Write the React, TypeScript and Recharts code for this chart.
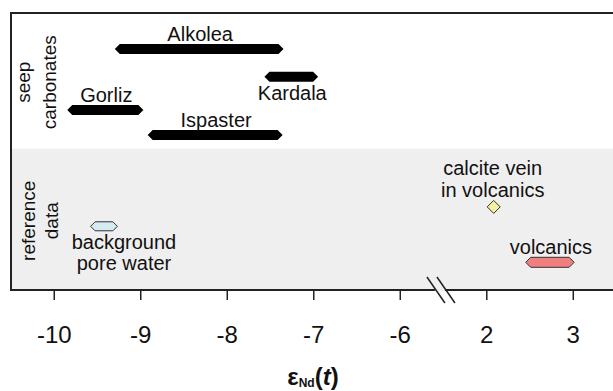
import React from "react";
import { ComposedChart, XAxis, YAxis, ReferenceArea, ReferenceDot, Scatter, Label } from "recharts";

// ---- data ----
const tickValues = [-10, -9, -8, -7, -6, 2, 3];

const seepNames = ["Alkolea", "Kardala", "Gorliz", "Ispaster"];
const seepMin = [-9.3, -7.57, -9.85, -8.92];
const seepMax = [-7.35, -6.95, -8.97, -7.36];
const seepRow = [8.7, 7.7, 6.5, 5.6];
const seepLabelSide = ["above", "below", "above", "above"];

const poreWaterRange = [-9.58, -9.27];
const poreWaterRow = 2.3;
const volcanicsRange = [2.45, 3.01];
const volcanicsRow = 1.0;
const calciteVeinValue = 2.08;
const calciteVeinRow = 3.0;

const groupLabels = [
  { lines: ["seep", "carbonates"], row: 7.5 },
  { lines: ["reference", "data"], row: 2.5 },
];
const referenceBandTop = 5.1;

// ---- broken-axis transform ----
const toPos = (v: number) => (v <= -6 ? v + 10 : v + 3);
const tickPositions = tickValues.map(toPos);
const breakPos = 4.47;

const calciteData = [{ pos: toPos(calciteVeinValue), row: calciteVeinRow }];

const FONT = "'Liberation Sans', Arial, sans-serif";
const X_DOMAIN: [number, number] = [-0.5, 6.54];
const Y_DOMAIN: [number, number] = [0, 10];

function hexPath(x: number, cy: number, w: number, h: number) {
  const half = h / 2;
  const tip = half;
  return `M${x},${cy} L${x + tip},${cy - half} L${x + w - tip},${cy - half} L${x + w},${cy} L${x + w - tip},${cy + half} L${x + tip},${cy + half} Z`;
}

const BarShape = (props: any) => {
  const { x, y, width, height, fill, stroke, barH, labelLines, labelDx, labelDy } = props;
  const cy = y + height / 2;
  const cx = x + width / 2;
  return (
    <g>
      <path d={hexPath(x, cy, width, barH)} fill={fill} stroke={stroke} strokeWidth={stroke === "none" ? 0 : 1} />
      {labelLines.map((t: string, i: number) => (
        <text key={i} x={cx + labelDx} y={cy + labelDy + i * 21} textAnchor="middle" fontSize={20} fontFamily={FONT} fill="#111">
          {t}
        </text>
      ))}
    </g>
  );
};

const DiamondShape = (p: any) => (
  <g>
    <polygon
      points={`${p.cx},${p.cy - 6.5} ${p.cx + 6.5},${p.cy} ${p.cx},${p.cy + 6.5} ${p.cx - 6.5},${p.cy}`}
      fill="#f3f0a0"
      stroke="#333"
      strokeWidth={1}
    />
    {["calcite vein", "in volcanics"].map((t, i) => (
      <text key={i} x={p.cx - 1} y={p.cy - 32 + i * 22} textAnchor="middle" fontSize={20} fontFamily={FONT} fill="#111">
        {t}
      </text>
    ))}
  </g>
);

export default function App() {
  const groupBaselines = [
    [19, 45],
    [24, 47],
  ];
  return (
    <div style={{ position: "absolute", left: 0, top: 0, width: 613, height: 391, overflow: "hidden", background: "#fff" }}>
      <ComposedChart width={620} height={391} margin={{ top: 13, left: 11, right: 0, bottom: 0 }}>
        <XAxis
          dataKey="pos"
          type="number"
          domain={X_DOMAIN}
          allowDataOverflow
          ticks={tickPositions}
          interval={0}
          tickFormatter={(p: number) => String(tickValues[tickPositions.indexOf(p)])}
          tickSize={10}
          tickMargin={26}
          height={101}
          axisLine={{ stroke: "#222", strokeWidth: 2 }}
          tickLine={{ stroke: "#222", strokeWidth: 1.5 }}
          tick={{ fontSize: 24, fill: "#111", fontFamily: FONT }}
        >
          <Label
            content={(p: any) => {
              const vb = p.viewBox || {};
              const cx = (vb.x ?? 11) + 302;
              const by = (vb.y ?? 290) + 95;
              return (
                <text x={cx} y={by} textAnchor="middle" fontFamily={FONT} fontWeight="bold" fill="#111" fontSize={24}>
                  <tspan>ε</tspan>
                  <tspan fontSize={12} dy={2}>Nd</tspan>
                  <tspan dy={-2}>(</tspan>
                  <tspan fontStyle="italic">t</tspan>
                  <tspan>)</tspan>
                </text>
              );
            }}
          />
        </XAxis>
        <YAxis dataKey="row" type="number" domain={Y_DOMAIN} hide allowDataOverflow />

        {/* reference-data band */}
        <ReferenceArea x1={X_DOMAIN[0]} x2={X_DOMAIN[1]} y1={0} y2={referenceBandTop} fill="#efefef" fillOpacity={1} stroke="none" ifOverflow="visible" />
        {/* plot frame */}
        <ReferenceArea x1={X_DOMAIN[0]} x2={X_DOMAIN[1]} y1={Y_DOMAIN[0]} y2={Y_DOMAIN[1]} fill="none" stroke="#222" strokeWidth={2} ifOverflow="visible" />

        {/* group labels */}
        {groupLabels.map((g, gi) => (
          <ReferenceDot
            key={"g" + gi}
            x={X_DOMAIN[0]}
            y={g.row}
            ifOverflow="visible"
            shape={(p: any) => (
              <g>
                {g.lines.map((t, i) => {
                  const bx = p.cx + groupBaselines[gi][i];
                  return (
                    <text key={i} x={bx} y={p.cy} transform={`rotate(-90, ${bx}, ${p.cy})`} textAnchor="middle" fontSize={19} fontFamily={FONT} fill="#111">
                      {t}
                    </text>
                  );
                })}
              </g>
            )}
          />
        ))}

        {/* seep carbonates */}
        {seepNames.map((n, i) => (
          <ReferenceArea
            key={n}
            x1={toPos(seepMin[i])}
            x2={toPos(seepMax[i])}
            y1={seepRow[i] - 0.001}
            y2={seepRow[i] + 0.001}
            ifOverflow="visible"
            shape={(p: any) => (
              <BarShape
                {...p}
                fill="#000"
                stroke="none"
                barH={10}
                labelLines={[n]}
                labelDx={1}
                labelDy={seepLabelSide[i] === "above" ? -8 : 23}
              />
            )}
          />
        ))}

        {/* background pore water */}
        <ReferenceArea
          x1={toPos(poreWaterRange[0])}
          x2={toPos(poreWaterRange[1])}
          y1={poreWaterRow - 0.001}
          y2={poreWaterRow + 0.001}
          ifOverflow="visible"
          shape={(p: any) => (
            <BarShape {...p} fill="#d6eaf2" stroke="#333" barH={9} labelLines={["background", "pore water"]} labelDx={20} labelDy={23} />
          )}
        />
        {/* volcanics */}
        <ReferenceArea
          x1={toPos(volcanicsRange[0])}
          x2={toPos(volcanicsRange[1])}
          y1={volcanicsRow - 0.001}
          y2={volcanicsRow + 0.001}
          ifOverflow="visible"
          shape={(p: any) => (
            <BarShape {...p} fill="#f08080" stroke="#333" barH={10} labelLines={["volcanics"]} labelDx={1} labelDy={-8} />
          )}
        />

        {/* calcite vein */}
        <Scatter data={calciteData} dataKey="row" isAnimationActive={false} shape={DiamondShape} />

        {/* axis break marks */}
        <ReferenceDot
          x={breakPos}
          y={Y_DOMAIN[0]}
          ifOverflow="visible"
          shape={(p: any) => (
            <g>
              <line x1={p.cx - 6} y1={p.cy} x2={p.cx + 4} y2={p.cy} stroke="#efefef" strokeWidth={3} />
              <line x1={p.cx - 14} y1={p.cy - 13} x2={p.cx + 4} y2={p.cy + 13} stroke="#222" strokeWidth={1.5} />
              <line x1={p.cx - 4} y1={p.cy - 13} x2={p.cx + 14} y2={p.cy + 13} stroke="#222" strokeWidth={1.5} />
            </g>
          )}
        />
      </ComposedChart>
    </div>
  );
}
